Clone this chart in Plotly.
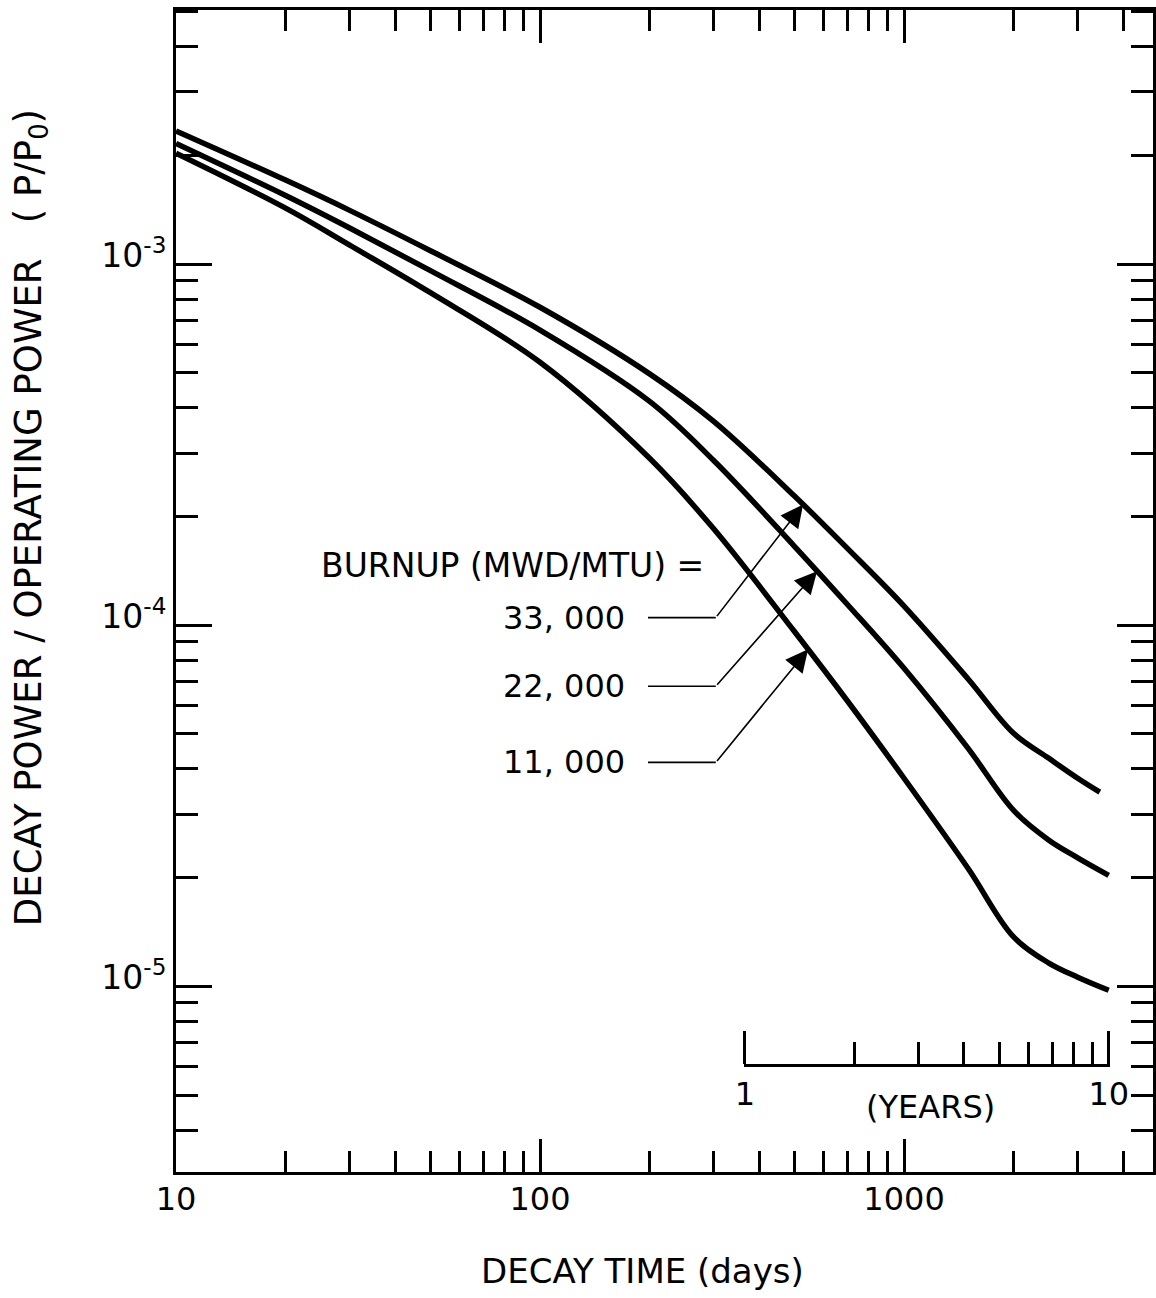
import math
import plotly.graph_objects as go

# ---------------- data ----------------
days_33k = [10, 20, 30, 50, 100, 200, 300, 500, 700, 1000, 1500, 2000, 2500, 3000, 3450]
power_33k = [2.34e-3, 1.71e-3, 1.41e-3, 1.09e-3, 7.60e-4, 4.97e-4, 3.67e-4, 2.28e-4,
             1.63e-4, 1.13e-4, 7.10e-5, 5.02e-5, 4.28e-5, 3.77e-5, 3.45e-5]
days_22k = [10, 20, 30, 50, 100, 200, 300, 500, 700, 1000, 1500, 2000, 2500, 3000, 3650]
power_22k = [2.16e-3, 1.55e-3, 1.26e-3, 9.60e-4, 6.57e-4, 4.17e-4, 2.86e-4, 1.655e-4,
             1.14e-4, 7.60e-5, 4.56e-5, 3.07e-5, 2.54e-5, 2.27e-5, 2.03e-5]
days_11k = [10, 20, 30, 50, 100, 200, 300, 500, 700, 1000, 1500, 2000, 2500, 3000, 3650]
power_11k = [2.03e-3, 1.43e-3, 1.13e-3, 8.34e-4, 5.35e-4, 2.90e-4, 1.85e-4, 9.61e-5,
             6.16e-5, 3.77e-5, 2.12e-5, 1.37e-5, 1.16e-5, 1.06e-5, 9.75e-6]

burnup_labels = ["33, 000", "22, 000", "11, 000"]
arrow_target_days = [528, 577, 545]
label_levels = [1.05e-4, 6.78e-5, 4.17e-5]   # y level of each label / leader line

x_tick_vals = [10, 100, 1000]
x_tick_text = ["10", "100", "1000"]
y_tick_vals = [1e-5, 1e-4, 1e-3]
y_tick_text = ["10<sup>-5</sup>", "10<sup>-4</sup>", "10<sup>-3</sup>"]
year_tick_vals = [1, 10]
year_tick_text = ["1", "10"]
days_per_year = 365.25

x_range_days = [10, 4830]
y_range_power = [3.06e-6, 5.06e-3]

FONT = "DejaVu Sans, Liberation Sans, sans-serif"

series = [(days_33k, power_33k), (days_22k, power_22k), (days_11k, power_11k)]


def loginterp(xs, ys, x):
    lx = math.log10(x)
    for i in range(len(xs) - 1):
        a, b = math.log10(xs[i]), math.log10(xs[i + 1])
        if a <= lx <= b:
            f = (lx - a) / (b - a)
            return 10 ** (math.log10(ys[i]) + f * (math.log10(ys[i + 1]) - math.log10(ys[i])))
    return ys[-1]


fig = go.Figure()
for d, p in series:
    fig.add_trace(go.Scatter(x=d, y=p, mode="lines",
                             line=dict(color="black", width=5.5, shape="spline", smoothing=1.0),
                             showlegend=False, hoverinfo="skip"))

# leader lines (horizontal parts)
lead_start_day, elbow_day = 198, 304
for lvl in label_levels:
    fig.add_trace(go.Scatter(x=[lead_start_day, elbow_day], y=[lvl, lvl], mode="lines",
                             line=dict(color="black", width=1.6),
                             showlegend=False, hoverinfo="skip"))

# dummy trace so the years axis subplot exists
fig.add_trace(go.Scatter(x=[1, 10], y=[None, None], xaxis="x2", yaxis="y",
                         mode="lines", showlegend=False, hoverinfo="skip"))

xr = [math.log10(v) for v in x_range_days]
yr = [math.log10(v) for v in y_range_power]
d0 = (math.log10(days_per_year) - xr[0]) / (xr[1] - xr[0])
d1 = (math.log10(10 * days_per_year) - xr[0]) / (xr[1] - xr[0])
pad = 0.003
d0p = d0 - pad * (d1 - d0)
d1p = d1 + pad * (d1 - d0)

minor_x = [m * 10 ** k for k in range(1, 4) for m in range(2, 10)]
minor_y = [m * 10 ** k for k in range(-6, -2) for m in range(2, 10)]
minor_years = list(range(2, 10))

annotations = []
annotations.append(dict(x=math.log10(286), y=math.log10(1.465e-4), xref="x", yref="y",
                        text="BURNUP (MWD/MTU) =", showarrow=False, xanchor="right",
                        yanchor="middle", font=dict(size=33, family=FONT, color="black")))
label_right_day = 173
for lab, lvl in zip(burnup_labels, label_levels):
    annotations.append(dict(x=math.log10(label_right_day), y=math.log10(lvl), xref="x", yref="y",
                            text=lab, showarrow=False, xanchor="right", yanchor="middle",
                            font=dict(size=32, family=FONT, color="black")))
for (d, p), td, lvl in zip(series, arrow_target_days, label_levels):
    ty = loginterp(d, p, td)
    annotations.append(dict(x=math.log10(td), y=math.log10(ty), xref="x", yref="y",
                            ax=math.log10(elbow_day), ay=math.log10(lvl), axref="x", ayref="y",
                            text="", showarrow=True, arrowhead=2, arrowsize=2.8,
                            arrowwidth=1.6, arrowcolor="black", standoff=0, startstandoff=0))
annotations.append(dict(x=0.51, y=0.056, xref="x2", yref="paper", text="(YEARS)",
                        showarrow=False, xanchor="center", yanchor="middle",
                        font=dict(size=32, family=FONT, color="black")))
annotations.append(dict(x=-0.149, y=0.563, xref="paper", yref="paper", textangle=-90,
                        xanchor="center", yanchor="middle",
                        text="DECAY POWER / OPERATING POWER   ( P/P<sub>0</sub>)",
                        showarrow=False, font=dict(size=37, family=FONT, color="black")))
annotations.append(dict(x=0.477, y=-0.085, xref="paper", yref="paper",
                        xanchor="center", yanchor="middle",
                        text="DECAY TIME (days)", showarrow=False,
                        font=dict(size=34, family=FONT, color="black")))

fig.update_layout(
    template="none",
    autosize=False,
    width=1156, height=1298,
    margin=dict(l=176, r=3, t=10, b=126, pad=0),
    paper_bgcolor="white", plot_bgcolor="rgba(0,0,0,0)",
    font=dict(family=FONT, color="black"),
    showlegend=False,
    annotations=annotations,
    xaxis=dict(type="log", range=xr, showgrid=False, zeroline=False, automargin=False,
               showline=True, linewidth=3, linecolor="black", mirror="ticks",
               ticks="inside", ticklen=33, tickwidth=2.5, tickcolor="black",
               tickmode="array", tickvals=x_tick_vals, ticktext=x_tick_text,
               tickfont=dict(size=32, family=FONT), ticklabelstandoff=-3,
               minor=dict(tickmode="array", tickvals=minor_x, ticks="inside",
                          ticklen=21, tickwidth=2.5, tickcolor="black", showgrid=False)),
    yaxis=dict(type="log", range=yr, showgrid=False, zeroline=False, automargin=False,
               showline=True, linewidth=3, linecolor="black", mirror="ticks",
               ticks="inside", ticklen=36, tickwidth=2.5, tickcolor="black",
               tickmode="array", tickvals=y_tick_vals, ticktext=y_tick_text,
               tickfont=dict(size=33, family=FONT), ticklabelshift=-9,
               minor=dict(tickmode="array", tickvals=minor_y, ticks="inside",
                          ticklen=22, tickwidth=2.5, tickcolor="black", showgrid=False)),
    xaxis2=dict(type="log", range=[-pad, 1 + pad], domain=[d0p, d1p], anchor="free",
                position=0.092, automargin=False,
                showgrid=False, zeroline=False, showline=True, linewidth=2.5,
                linecolor="black", ticks="inside", ticklen=33, tickwidth=2.5,
                tickcolor="black", tickmode="array", tickvals=year_tick_vals,
                ticktext=year_tick_text, tickfont=dict(size=32, family=FONT),
                minor=dict(tickmode="array", tickvals=minor_years, ticks="inside",
                           ticklen=22, tickwidth=2.5, tickcolor="black", showgrid=False)),
)

fig.write_html("out.html",
               config={"displayModeBar": False, "responsive": False},
               post_script="document.body.style.margin='0';document.body.style.overflow='hidden';")
